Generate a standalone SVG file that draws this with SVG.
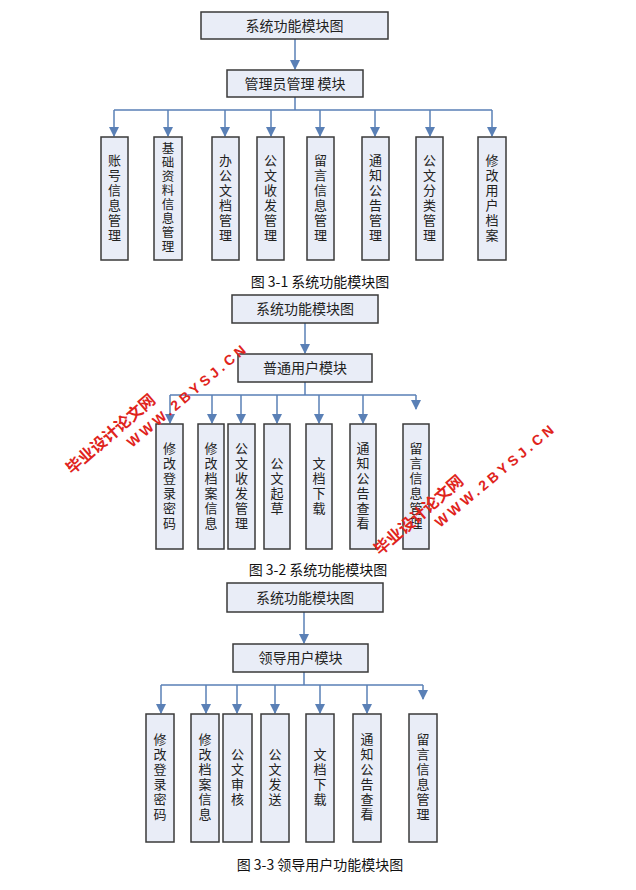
<svg xmlns="http://www.w3.org/2000/svg" width="636" height="890" viewBox="0 0 636 890">
<defs>
<style>
.bg{fill:#fff}
.n rect{fill:#E9EDF7;stroke:#3a3a3a;stroke-width:1.5}
.t{font-family:"Noto Sans CJK SC","Liberation Sans",sans-serif;font-size:14px;fill:#222;text-anchor:middle}
.v{font-family:"Noto Sans CJK SC","Liberation Sans",sans-serif;font-size:13px;fill:#222;text-anchor:middle}
.cap{font-family:"Noto Sans CJK SC","Liberation Sans",sans-serif;font-size:14px;fill:#111;text-anchor:middle}
.c path{fill:none;stroke:#5A80B6;stroke-width:1.5}
.wm1{font-family:"Noto Sans CJK SC",sans-serif;font-size:16px;font-weight:bold;fill:#E0241C}
.wm2{font-family:"Liberation Sans",sans-serif;font-size:14px;font-weight:bold;fill:#E0241C;letter-spacing:3.5px}
</style>
<marker id="a" viewBox="0 0 10 10" refX="9" refY="5" markerWidth="7" markerHeight="7" orient="auto"><path d="M0,0L10,5L0,10z" fill="#5A80B6"/></marker>
</defs>
<rect class="bg" width="636" height="890"/>
<g class="c" id="connectors">
<path d="M295,39V69" marker-end="url(#a)"/>
<path d="M295,97V110M114,110H492"/>
<path d="M114,110V136" marker-end="url(#a)"/><path d="M168,110V136" marker-end="url(#a)"/><path d="M225,110V136" marker-end="url(#a)"/><path d="M271,110V136" marker-end="url(#a)"/><path d="M320,110V136" marker-end="url(#a)"/><path d="M375,110V136" marker-end="url(#a)"/><path d="M430,110V136" marker-end="url(#a)"/><path d="M492,110V136" marker-end="url(#a)"/>
<path d="M305,323V353" marker-end="url(#a)"/>
<path d="M305,382V395M170,395H416"/>
<path d="M170,395V423" marker-end="url(#a)"/><path d="M212,395V423" marker-end="url(#a)"/><path d="M241,395V423" marker-end="url(#a)"/><path d="M277,395V423" marker-end="url(#a)"/><path d="M319,395V423" marker-end="url(#a)"/><path d="M363,395V423" marker-end="url(#a)"/><path d="M416,395V409" marker-end="url(#a)"/>
<path d="M304,612V643" marker-end="url(#a)"/>
<path d="M304,672V685M161,685H423"/>
<path d="M161,685V713" marker-end="url(#a)"/><path d="M206,685V713" marker-end="url(#a)"/><path d="M237,685V713" marker-end="url(#a)"/><path d="M275,685V713" marker-end="url(#a)"/><path d="M320,685V713" marker-end="url(#a)"/><path d="M367,685V713" marker-end="url(#a)"/><path d="M423,685V699" marker-end="url(#a)"/>
</g>
<g id="d1top" class="n"><rect x="201" y="12" width="187" height="27"/><text class="t" x="294.5" y="31">系统功能模块图</text></g>
<g id="d1admin" class="n"><rect x="227" y="70" width="136" height="27"/><text class="t" x="295" y="89">管理员管理 模块</text></g>
<g id="d1c1" class="n"><rect x="101" y="137" width="27" height="123"/><text class="v" x="114.5" y="164.5"><tspan x="114.5">账</tspan><tspan x="114.5" dy="15">号</tspan><tspan x="114.5" dy="15">信</tspan><tspan x="114.5" dy="15">息</tspan><tspan x="114.5" dy="15">管</tspan><tspan x="114.5" dy="15">理</tspan></text></g>
<g id="d1c2" class="n"><rect x="154" y="137" width="28" height="123"/><text class="v" x="168" y="153" style="font-size:12.5px"><tspan x="168">基</tspan><tspan x="168" dy="14">础</tspan><tspan x="168" dy="14">资</tspan><tspan x="168" dy="14">料</tspan><tspan x="168" dy="14">信</tspan><tspan x="168" dy="14">息</tspan><tspan x="168" dy="14">管</tspan><tspan x="168" dy="14">理</tspan></text></g>
<g id="d1c3" class="n"><rect x="212" y="137" width="27" height="123"/><text class="v" x="225.5" y="164.5"><tspan x="225.5">办</tspan><tspan x="225.5" dy="15">公</tspan><tspan x="225.5" dy="15">文</tspan><tspan x="225.5" dy="15">档</tspan><tspan x="225.5" dy="15">管</tspan><tspan x="225.5" dy="15">理</tspan></text></g>
<g id="d1c4" class="n"><rect x="257" y="137" width="27" height="123"/><text class="v" x="270.5" y="164.5"><tspan x="270.5">公</tspan><tspan x="270.5" dy="15">文</tspan><tspan x="270.5" dy="15">收</tspan><tspan x="270.5" dy="15">发</tspan><tspan x="270.5" dy="15">管</tspan><tspan x="270.5" dy="15">理</tspan></text></g>
<g id="d1c5" class="n"><rect x="307" y="137" width="27" height="123"/><text class="v" x="320.5" y="164.5"><tspan x="320.5">留</tspan><tspan x="320.5" dy="15">言</tspan><tspan x="320.5" dy="15">信</tspan><tspan x="320.5" dy="15">息</tspan><tspan x="320.5" dy="15">管</tspan><tspan x="320.5" dy="15">理</tspan></text></g>
<g id="d1c6" class="n"><rect x="362" y="137" width="27" height="123"/><text class="v" x="375.5" y="164.5"><tspan x="375.5">通</tspan><tspan x="375.5" dy="15">知</tspan><tspan x="375.5" dy="15">公</tspan><tspan x="375.5" dy="15">告</tspan><tspan x="375.5" dy="15">管</tspan><tspan x="375.5" dy="15">理</tspan></text></g>
<g id="d1c7" class="n"><rect x="416" y="137" width="27" height="123"/><text class="v" x="429.5" y="164.5"><tspan x="429.5">公</tspan><tspan x="429.5" dy="15">文</tspan><tspan x="429.5" dy="15">分</tspan><tspan x="429.5" dy="15">类</tspan><tspan x="429.5" dy="15">管</tspan><tspan x="429.5" dy="15">理</tspan></text></g>
<g id="d1c8" class="n"><rect x="478" y="137" width="28" height="123"/><text class="v" x="492" y="164.5"><tspan x="492">修</tspan><tspan x="492" dy="15">改</tspan><tspan x="492" dy="15">用</tspan><tspan x="492" dy="15">户</tspan><tspan x="492" dy="15">档</tspan><tspan x="492" dy="15">案</tspan></text></g>
<text class="cap" x="320" y="287">图 3-1 系统功能模块图</text>

<g id="d2top" class="n"><rect x="232" y="295" width="146" height="28"/><text class="t" x="305" y="314">系统功能模块图</text></g>
<g id="d2user" class="n"><rect x="238" y="354" width="134" height="28"/><text class="t" x="305" y="373">普通用户模块</text></g>
<g id="d2c1" class="n"><rect x="156" y="424" width="27" height="125"/><text class="v" x="169.5" y="452.5"><tspan x="169.5">修</tspan><tspan x="169.5" dy="15">改</tspan><tspan x="169.5" dy="15">登</tspan><tspan x="169.5" dy="15">录</tspan><tspan x="169.5" dy="15">密</tspan><tspan x="169.5" dy="15">码</tspan></text></g>
<g id="d2c2" class="n"><rect x="198" y="424" width="26" height="125"/><text class="v" x="211" y="452.5"><tspan x="211">修</tspan><tspan x="211" dy="15">改</tspan><tspan x="211" dy="15">档</tspan><tspan x="211" dy="15">案</tspan><tspan x="211" dy="15">信</tspan><tspan x="211" dy="15">息</tspan></text></g>
<g id="d2c3" class="n"><rect x="228" y="424" width="27" height="125"/><text class="v" x="241.5" y="452.5"><tspan x="241.5">公</tspan><tspan x="241.5" dy="15">文</tspan><tspan x="241.5" dy="15">收</tspan><tspan x="241.5" dy="15">发</tspan><tspan x="241.5" dy="15">管</tspan><tspan x="241.5" dy="15">理</tspan></text></g>
<g id="d2c4" class="n"><rect x="264" y="424" width="26" height="125"/><text class="v" x="277" y="467.5"><tspan x="277">公</tspan><tspan x="277" dy="15">文</tspan><tspan x="277" dy="15">起</tspan><tspan x="277" dy="15">草</tspan></text></g>
<g id="d2c5" class="n"><rect x="306" y="424" width="26" height="125"/><text class="v" x="319" y="467.5"><tspan x="319">文</tspan><tspan x="319" dy="15">档</tspan><tspan x="319" dy="15">下</tspan><tspan x="319" dy="15">载</tspan></text></g>
<g id="d2c6" class="n"><rect x="350" y="424" width="26" height="125"/><text class="v" x="363" y="452.5"><tspan x="363">通</tspan><tspan x="363" dy="15">知</tspan><tspan x="363" dy="15">公</tspan><tspan x="363" dy="15">告</tspan><tspan x="363" dy="15">查</tspan><tspan x="363" dy="15">看</tspan></text></g>
<g id="d2c7" class="n"><rect x="403" y="424" width="26" height="125"/><text class="v" x="416" y="452.5"><tspan x="416">留</tspan><tspan x="416" dy="15">言</tspan><tspan x="416" dy="15">信</tspan><tspan x="416" dy="15">息</tspan><tspan x="416" dy="15">管</tspan><tspan x="416" dy="15">理</tspan></text></g>
<text class="cap" x="318" y="575">图 3-2 系统功能模块图</text>

<g id="d3top" class="n"><rect x="227" y="583" width="156" height="29"/><text class="t" x="305" y="603">系统功能模块图</text></g>
<g id="d3leader" class="n"><rect x="233" y="644" width="135" height="28"/><text class="t" x="300.5" y="663">领导用户模块</text></g>
<g id="d3c1" class="n"><rect x="146" y="714" width="28" height="128"/><text class="v" x="160" y="744"><tspan x="160">修</tspan><tspan x="160" dy="15">改</tspan><tspan x="160" dy="15">登</tspan><tspan x="160" dy="15">录</tspan><tspan x="160" dy="15">密</tspan><tspan x="160" dy="15">码</tspan></text></g>
<g id="d3c2" class="n"><rect x="191" y="714" width="28" height="128"/><text class="v" x="205" y="744"><tspan x="205">修</tspan><tspan x="205" dy="15">改</tspan><tspan x="205" dy="15">档</tspan><tspan x="205" dy="15">案</tspan><tspan x="205" dy="15">信</tspan><tspan x="205" dy="15">息</tspan></text></g>
<g id="d3c3" class="n"><rect x="223" y="714" width="29" height="128"/><text class="v" x="237.5" y="759"><tspan x="237.5">公</tspan><tspan x="237.5" dy="15">文</tspan><tspan x="237.5" dy="15">审</tspan><tspan x="237.5" dy="15">核</tspan></text></g>
<g id="d3c4" class="n"><rect x="261" y="714" width="28" height="128"/><text class="v" x="275" y="759"><tspan x="275">公</tspan><tspan x="275" dy="15">文</tspan><tspan x="275" dy="15">发</tspan><tspan x="275" dy="15">送</tspan></text></g>
<g id="d3c5" class="n"><rect x="306" y="714" width="28" height="128"/><text class="v" x="320" y="759"><tspan x="320">文</tspan><tspan x="320" dy="15">档</tspan><tspan x="320" dy="15">下</tspan><tspan x="320" dy="15">载</tspan></text></g>
<g id="d3c6" class="n"><rect x="353" y="714" width="28" height="128"/><text class="v" x="367" y="744"><tspan x="367">通</tspan><tspan x="367" dy="15">知</tspan><tspan x="367" dy="15">公</tspan><tspan x="367" dy="15">告</tspan><tspan x="367" dy="15">查</tspan><tspan x="367" dy="15">看</tspan></text></g>
<g id="d3c7" class="n"><rect x="409" y="714" width="28" height="128"/><text class="v" x="423" y="744"><tspan x="423">留</tspan><tspan x="423" dy="15">言</tspan><tspan x="423" dy="15">信</tspan><tspan x="423" dy="15">息</tspan><tspan x="423" dy="15">管</tspan><tspan x="423" dy="15">理</tspan></text></g>
<text class="cap" x="320" y="870">图 3-3 领导用户功能模块图</text>

<g id="watermarks">
<text class="wm1" transform="translate(72,475) rotate(-41)">毕业设计论文网</text>
<text class="wm2" transform="translate(132,448) rotate(-40)">WWW.2BYSJ.CN</text>
<text class="wm1" transform="translate(380,556) rotate(-41)">毕业设计论文网</text>
<text class="wm2" transform="translate(440,528) rotate(-40)">WWW.2BYSJ.CN</text>
</g>
</svg>
